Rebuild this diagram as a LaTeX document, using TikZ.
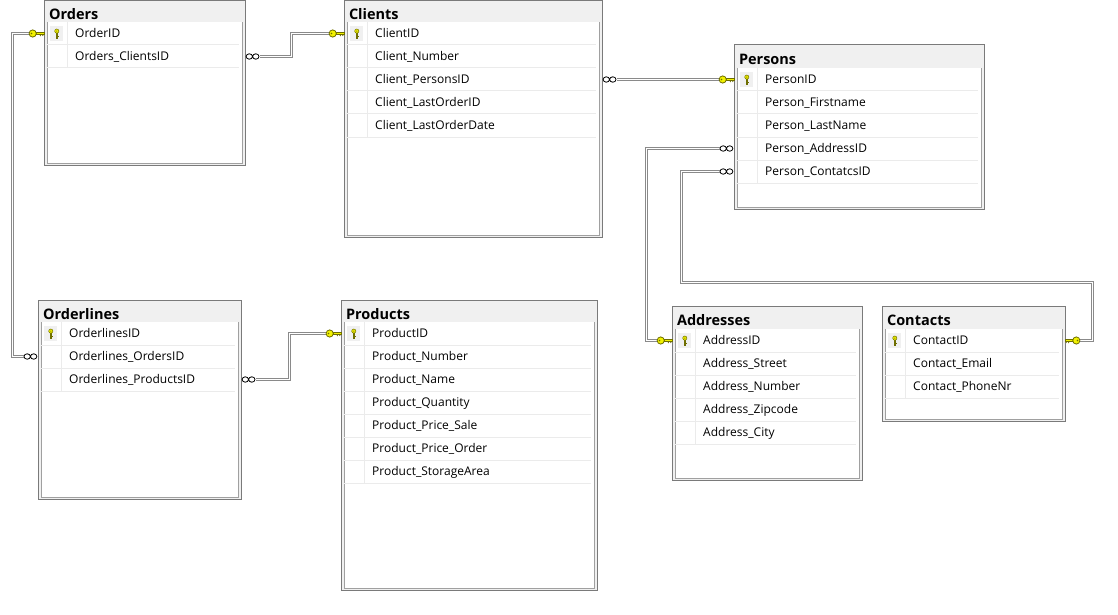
\documentclass[tikz,border=0pt]{standalone}
\usepackage{fontspec}
\setmainfont{Open Sans}
\usetikzlibrary{calc,fit}
\definecolor{tabborder}{HTML}{7A7A7A}
\definecolor{innerborder}{HTML}{A0A0A0}
\definecolor{titlebg}{HTML}{F0F0F0}
\definecolor{rowsep}{HTML}{EBEBEB}
\definecolor{keyyel}{HTML}{F2F200}
\definecolor{keyline}{HTML}{6E6E00}
\definecolor{relgray}{HTML}{8A8A8A}
\tikzset{
  tabbox/.style={draw=tabborder, fill=titlebg, inner sep=0pt, outer sep=0pt, line width=1pt, rectangle},
  innerline/.style={draw=innerborder, line width=1pt},
  rowline/.style={draw=rowsep, line width=1pt},
  titletext/.style={font=\fontsize{14.5}{16}\selectfont\bfseries, inner sep=0pt, anchor=west, text height=10.3pt, text depth=0pt},
  rowtext/.style={font=\fontsize{12}{14}\selectfont, inner sep=0pt, anchor=west, text height=8.6pt, text depth=0pt},
  rel/.style={draw=relgray, double=white, double distance=1pt, line width=1pt},
  keyend/.pic={
    \filldraw[fill=keyyel, draw=keyline, line width=0.5pt] (-8,-1.1) rectangle (0,1.1);
    \fill[keyline] (-4.6,1.1) -- (-3.6,2.8) -- (-2.6,1.1) -- cycle;
    \fill[keyline] (-2.2,1.1) -- (-1.2,2.6) -- (-0.2,1.1) -- cycle;
    \filldraw[fill=keyyel, draw=keyline, line width=0.8pt] (-11.3,0) circle (3.6);
    \fill[keyline] (-12.5,0) circle (0.9);
  },
  manyend/.pic={
    \filldraw[fill=white, draw=black, line width=0.8pt] (-4.3,0) ellipse (3.2 and 2.7) (-10.8,0) ellipse (3.2 and 2.7);
  },
  rowkey/.pic={
    \filldraw[fill=keyyel, draw=keyline, line width=0.5pt] (-0.9,-0.6) rectangle (0.9,4.4);
    \fill[keyline] (0.9,2.2) rectangle (2,3.0);
    \filldraw[fill=keyyel, draw=keyline, line width=0.5pt] (0,-2.4) circle (2.1);
    \fill[keyline] (0,-2.4) circle (0.6);
  }
}
% #1 name, #2 x1, #3 y1, #4 x2, #5 y2, #6 title bottom, #7 title, #8 rows
\newcommand{\dbtable}[8]{%
  \coordinate (#1-nw) at (#2,#3);
  \coordinate (#1-se) at (#4,#5);
  \node[tabbox, fit=(#1-nw)(#1-se)] (#1) {};
  \fill[white] (#2+3,#6) rectangle (#4-3,#5-2);
  \draw[innerline] (#2+3,#6) -- (#2+3,#5-2) -- (#4-3,#5-2) -- (#4-3,#6);
  \node[titletext] (#1-title) at (#2+4.8,{(#3+#6)/2+3}) {#7};
  \fill[titlebg] (#2+5.5,#6+4) rectangle (#2+19,#6+19);
  \pic at (#2+12.8,#6+11.5) {rowkey};
  \foreach \rowtxt [count=\rn] in {#8} {
    \pgfmathsetmacro\ytop{#6+(\rn-1)*23}
    \draw[rowline] (#2+3,\ytop+23) -- (#4-6,\ytop+23);
    \draw[rowline] (#2+23,\ytop) -- (#2+23,\ytop+23);
    \node[rowtext] (#1-r\rn) at (#2+31,\ytop+11.5) {\rowtxt};
  }
}
\begin{document}
\begin{tikzpicture}[x=1pt,y=-1pt]
\useasboundingbox[fill=white] (0,0) rectangle (1118,615);

\dbtable{orders}{44}{1}{245}{165}{22}{Orders}{OrderID, Orders\_ClientsID}
\dbtable{clients}{344}{1}{602}{237}{22}{Clients}{ClientID, Client\_Number, Client\_PersonsID, Client\_LastOrderID, Client\_LastOrderDate}
\dbtable{persons}{734}{45}{984}{209}{68}{Persons}{PersonID, Person\_Firstname, Person\_LastName, Person\_AddressID, Person\_ContatcsID}
\dbtable{orderlines}{38}{300}{241}{499}{322}{Orderlines}{OrderlinesID, Orderlines\_OrdersID, Orderlines\_ProductsID}
\dbtable{products}{341}{300}{597}{590}{322}{Products}{ProductID, Product\_Number, Product\_Name, Product\_Quantity, Product\_Price\_Sale, Product\_Price\_Order, Product\_StorageArea}
\dbtable{addresses}{672}{306}{862}{480}{329}{Addresses}{AddressID, Address\_Street, Address\_Number, Address\_Zipcode, Address\_City}
\dbtable{contacts}{882}{306}{1065}{421}{329}{Contacts}{ContactID, Contact\_Email, Contact\_PhoneNr}

\coordinate (bend) at (1092.5,282.5);

% Orders.OrderID -> Orderlines.Orderlines_OrdersID
\draw[rel] ($(orders.west |- orders-r1)+(-15,0)$) -- ++(-16.5,0) |- ($(orderlines.west |- orderlines-r2)+(-14.5,0)$);
\pic at (orders.west |- orders-r1) {keyend};
\pic at (orderlines.west |- orderlines-r2) {manyend};

% Orders.Orders_ClientsID -> Clients.ClientID
\draw[rel] ($(orders.east |- orders-r2)+(14.5,0)$) -- ++(32,0) |- ($(clients.west |- clients-r1)+(-15,0)$);
\pic[xscale=-1] at (orders.east |- orders-r2) {manyend};
\pic at (clients.west |- clients-r1) {keyend};

% Clients.Client_PersonsID -> Persons.PersonID
\draw[rel] ($(clients.east |- clients-r3)+(14.5,0)$) -- ($(persons.west |- clients-r3)+(-15,0)$);
\pic[xscale=-1] at (clients.east |- clients-r3) {manyend};
\pic at (persons.west |- persons-r1) {keyend};

% Persons.Person_AddressID -> Addresses.AddressID
\draw[rel] ($(persons.west |- persons-r4)+(-14.5,0)$) -- ++(-73,0) |- ($(addresses.west |- addresses-r1)+(-15,0)$);
\pic at (persons.west |- persons-r4) {manyend};
\pic at (addresses.west |- addresses-r1) {keyend};

% Persons.Person_ContatcsID -> Contacts.ContactID
\draw[rel] ($(persons.west |- persons-r5)+(-14.5,0)$) -- ++(-38,0) |- (bend) |- ($(contacts.east |- contacts-r1)+(15,0)$);
\pic at (persons.west |- persons-r5) {manyend};
\pic[xscale=-1] at (contacts.east |- contacts-r1) {keyend};

% Orderlines.Orderlines_ProductsID -> Products.ProductID
\draw[rel] ($(orderlines.east |- orderlines-r3)+(14.5,0)$) -- ++(34,0) |- ($(products.west |- products-r1)+(-15,0)$);
\pic[xscale=-1] at (orderlines.east |- orderlines-r3) {manyend};
\pic at (products.west |- products-r1) {keyend};
\end{tikzpicture}
\end{document}
